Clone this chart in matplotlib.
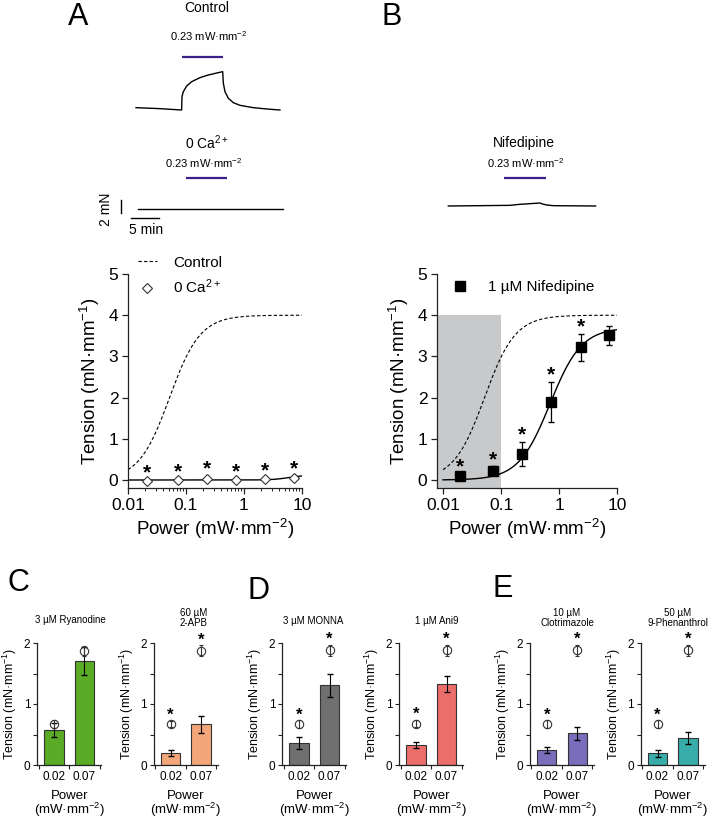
import numpy as np
import matplotlib
matplotlib.use("Agg")
import matplotlib.pyplot as plt
from matplotlib.lines import Line2D
from matplotlib.ticker import LogLocator, NullFormatter, FixedLocator

plt.rcParams.update({
    "font.family": ["Liberation Sans", "DejaVu Sans"],
    "mathtext.fontset": "custom",
    "mathtext.rm": "Liberation Sans",
    "mathtext.it": "Liberation Sans:italic",
    "mathtext.bf": "Liberation Sans:bold",
    "axes.linewidth": 0.9,
    "axes.edgecolor": "#222222",
    "xtick.color": "#222222",
    "ytick.color": "#222222",
    "xtick.labelcolor": "black",
    "ytick.labelcolor": "black",
})

# ---------------- data ----------------
# raw force traces (time in min, force in mN)
ctrl_trace_t = [0.0, 4.29, 8.15, 8.21, 8.45, 9.05, 9.94, 11.43, 12.92, 14.40, 15.48,
                15.60, 15.89, 16.49, 17.38, 18.57, 20.95, 23.33, 25.71]
ctrl_trace_f = [0.05, -0.10, -0.31, 1.74, 2.51, 3.38, 4.05, 4.67, 5.08, 5.38, 5.59,
                3.79, 2.51, 1.49, 0.82, 0.41, 0.05, -0.15, -0.31]
ctrl_light = (8.2, 15.5)
ca_trace_t = [0.0, 25.9]
ca_trace_f = [0.0, 0.0]
ca_light = (8.5, 15.8)
nif_trace_t = [0.0, 11.0, 12.8, 14.6, 16.4, 16.8, 17.6, 18.75, 26.3]
nif_trace_f = [0.0, 0.10, 0.26, 0.36, 0.46, 0.31, 0.15, 0.05, 0.0]
nif_light = (10.0, 17.4)
scale_time = 5.0   # min
scale_force = 2.0  # mN

# power-response: 0 Ca2+
ca_power = [0.021, 0.072, 0.23, 0.72, 2.3, 7.2]
ca_tension = [-0.03, -0.01, 0.03, 0.01, 0.02, 0.06]
ca_err = [0.03, 0.03, 0.06, 0.03, 0.03, 0.05]
ca_sig = [True, True, True, True, True, True]

# power-response: nifedipine
nif_power = [0.020, 0.072, 0.23, 0.72, 2.35, 7.2]
nif_tension = [0.10, 0.23, 0.63, 1.89, 3.22, 3.51]
nif_err = [0.06, 0.10, 0.30, 0.49, 0.33, 0.23]
nif_sig = [True, True, True, True, True, False]

# Hill fits (bottom, top, EC50, n)
control_fit = (0.0, 4.0, 0.052, 1.64)
ca_fit = (0.0, 0.12, 6.0, 3.0)
nif_fit = (0.0, 3.7, 0.7, 1.6)
shade_power_max = 0.1
shade_top = 4.0

# bar panels
bar_powers = ["0.02", "0.07"]
bar_titles = ["3 µM Ryanodine", "60 µM\n2-APB", "3 µM MONNA", "1 µM Ani9",
              "10 µM\nClotrimazole", "50 µM\n9-Phenanthrol"]
bar_colors = ["#5aab26", "#f2a679", "#707070", "#ec6e6b", "#7a6dbb", "#38aca8"]
bar_means = [[0.57, 1.70], [0.19, 0.67], [0.355, 1.31], [0.33, 1.33], [0.246, 0.52], [0.19, 0.44]]
bar_sems = [[0.115, 0.23], [0.05, 0.14], [0.10, 0.19], [0.045, 0.13], [0.044, 0.104], [0.055, 0.095]]
ctrl_means = [[0.67, 1.87], [0.67, 1.87], [0.67, 1.88], [0.68, 1.88], [0.67, 1.885], [0.67, 1.885]]
ctrl_sems = [[0.06, 0.08], [0.05, 0.09], [0.06, 0.09], [0.06, 0.09], [0.06, 0.09], [0.06, 0.09]]
bar_sig = [[False, False], [True, True], [True, True], [True, True], [True, True], [True, True]]

# ---------------- layout helpers ----------------
W, H = 709, 819
fig = plt.figure(figsize=(W / 100, H / 100), dpi=100)


def px_axes(left, top, width, height):
    return fig.add_axes([left / W, 1 - (top + height) / H, width / W, height / H])


def ftext(x, y, s, **kw):
    kw.setdefault("ha", "center")
    kw.setdefault("va", "center")
    fig.text(x / W, 1 - y / H, s, **kw)


def hill(x, p):
    b, t, ec, n = p
    return b + (t - b) / (1 + (ec / x) ** n)


SX, SY = 5.6, 6.5  # px per min, px per mN


def trace_axes(x0, y0, tmin, tmax, fmin, fmax):
    ax = px_axes(x0 + tmin * SX, y0 - fmax * SY, (tmax - tmin) * SX, (fmax - fmin) * SY)
    ax.set_xlim(tmin, tmax)
    ax.set_ylim(fmin, fmax)
    ax.axis("off")
    return ax


LIGHT = "#3b1f8a"

# ---------------- traces ----------------
ax = trace_axes(136, 108, -1, 27, -1, 9)
ax.plot(ctrl_trace_t, ctrl_trace_f, color="k", lw=1.0)
ax.plot(ctrl_light, [7.85, 7.85], color=LIGHT, lw=1.6, solid_capstyle="butt")

ax = trace_axes(138.3, 209.3, -6, 27, -3, 6)
ax.plot(ca_trace_t, ca_trace_f, color="k", lw=1.0)
ax.plot(ca_light, [4.8, 4.8], color=LIGHT, lw=1.6, solid_capstyle="butt")
ax.plot([-3.1, -3.1], [-0.57, -0.57 + scale_force], color="k", lw=1.0)
ax.plot([-1.3, -1.3 + scale_time], [-1.34, -1.34], color="k", lw=1.0)

ax = trace_axes(448.3, 206, -1, 28, -1, 6)
ax.plot(nif_trace_t, nif_trace_f, color="k", lw=1.0)
ax.plot(nif_light, [4.3, 4.3], color=LIGHT, lw=1.6, solid_capstyle="butt")

ftext(207, 8, "Control", fontsize=10)
ftext(209, 36, "0.23 mW·mm$^{-2}$", fontsize=8)
ftext(207, 143, "0 Ca$^{2+}$", fontsize=10)
ftext(204, 163, "0.23 mW·mm$^{-2}$", fontsize=8)
ftext(524, 143, "Nifedipine", fontsize=10)
ftext(526, 163, "0.23 mW·mm$^{-2}$", fontsize=8)
ftext(106, 209, "2 mN", fontsize=10, rotation=90)
ftext(146, 230, "5 min", fontsize=10)

ftext(78, 17, "A", fontsize=22)
ftext(392, 17, "B", fontsize=22)
ftext(18, 583, "C", fontsize=22)
ftext(259, 591, "D", fontsize=22)
ftext(503, 589, "E", fontsize=22)

STAR = dict(ha="center", va="center", fontweight="bold", annotation_clip=False,
            textcoords="offset points")


# ---------------- power-response axes ----------------
def style_main(ax, xleft):
    ax.set_xscale("log")
    ax.set_xlim(xleft, 10)
    ax.set_ylim(-0.194, 5)
    for s in ("top", "right"):
        ax.spines[s].set_visible(False)
    ax.xaxis.set_major_locator(FixedLocator([0.01, 0.1, 1, 10]))
    ax.set_xticklabels(["0.01", "0.1", "1", "10"])
    ax.xaxis.set_minor_locator(LogLocator(base=10, subs=np.arange(2, 10)))
    ax.xaxis.set_minor_formatter(NullFormatter())
    ax.set_yticks([0, 1, 2, 3, 4, 5])
    ax.tick_params(axis="both", which="major", direction="out", length=4, width=0.9,
                   labelsize=12.5, pad=3)
    ax.tick_params(axis="x", which="minor", direction="out", length=2.5, width=0.7)
    ax.set_xlabel("Power (mW·mm$^{-2}$)", fontsize=13.5, labelpad=3)
    ax.set_ylabel("Tension (mN·mm$^{-1}$)", fontsize=13.5, labelpad=5)


xs = np.logspace(-2, 1, 300)

axA = px_axes(128, 274, 174, 214)
style_main(axA, 0.01)
axA.plot(xs, hill(xs, control_fit), ls="--", dashes=(3, 2), color="k", lw=0.8)
axA.plot(xs, hill(xs, ca_fit), color="k", lw=1.0)
axA.errorbar(ca_power, ca_tension, yerr=ca_err, fmt="D", ms=5.5, mfc="white",
             mec="#333333", mew=0.8, ecolor="#333333", elinewidth=0.8, capsize=1.5, zorder=3)
for x, y, e, s in zip(ca_power, ca_tension, ca_err, ca_sig):
    if s:
        axA.annotate("*", (x, y + e), xytext=(0, 5), fontsize=15, **STAR)
hA = [Line2D([], [], ls="--", dashes=(3, 2), color="k", lw=0.8),
      Line2D([], [], marker="D", ls="none", mfc="white", mec="#333333", ms=5.5, mew=0.8)]
axA.legend(hA, ["Control", "0 Ca$^{2+}$"], loc="upper left", bbox_to_anchor=(0.056, 1.085),
           frameon=False, fontsize=11, handlelength=1.25, handletextpad=1.05,
           borderpad=0, borderaxespad=0, labelspacing=0.5)

xleftB = 0.01 * 10 ** (-6 / 58)
axB = px_axes(437, 274, 180, 214)
style_main(axB, xleftB)
axB.fill_between([xleftB, shade_power_max], -0.194, shade_top, color="#c8c9cb", lw=0, zorder=0)
axB.plot(xs, hill(xs, control_fit), ls="--", dashes=(3, 2), color="k", lw=0.8)
axB.plot(xs, hill(xs, nif_fit), color="k", lw=1.0)
axB.errorbar(nif_power, nif_tension, yerr=nif_err, fmt="s", ms=7, mfc="black",
             mec="black", ecolor="black", elinewidth=0.9, capsize=2.5, zorder=3)
for x, y, e, s in zip(nif_power, nif_tension, nif_err, nif_sig):
    if s:
        axB.annotate("*", (x, y + e), xytext=(0, 5), fontsize=15, **STAR)
hB = [Line2D([], [], marker="s", ls="none", mfc="black", mec="black", ms=7)]
axB.legend(hB, ["1 µM Nifedipine"], loc="upper left", bbox_to_anchor=(0.075, 0.97),
           frameon=False, fontsize=11, handlelength=1.25, handletextpad=1.2,
           borderpad=0, borderaxespad=0)

# ---------------- bar panels ----------------
bar_c0 = [54, 170.5, 299, 416, 546.7, 657.5]
title_pos = [(70.7, 620), (194, 618), (313, 621), (437, 621), (567, 618), (678, 618)]
UNIT = 30.5
for i in range(6):
    ax = px_axes(bar_c0[i] - 0.55 * UNIT, 643, 2.1 * UNIT, 122)
    pos = np.arange(2)
    ax.bar(pos, bar_means[i], width=0.63, color=bar_colors[i], edgecolor="#333333",
           lw=0.8, zorder=2)
    ax.errorbar(pos, bar_means[i], yerr=bar_sems[i], fmt="none", ecolor="black",
                elinewidth=0.8, capsize=2, zorder=3)
    ax.errorbar(pos, ctrl_means[i], yerr=ctrl_sems[i], fmt="o", ms=6, mfc="none",
                mec="#333333", mew=0.8, ecolor="#333333", elinewidth=0.8, capsize=1.5, zorder=3)
    for p, m, e, s in zip(pos, ctrl_means[i], ctrl_sems[i], bar_sig[i]):
        if s:
            ax.annotate("*", (p, m + e), xytext=(0, 4), fontsize=12, **STAR)
    ax.set_xlim(-0.55, 1.55)
    ax.set_ylim(0, 2)
    for s in ("top", "right"):
        ax.spines[s].set_visible(False)
    ax.set_xticks(pos)
    ax.set_xticklabels(bar_powers)
    ax.xaxis.set_minor_locator(FixedLocator([-0.5, 0.5, 1.5]))
    ax.tick_params(axis="x", which="major", length=0, labelsize=8.5, pad=4)
    ax.tick_params(axis="x", which="minor", direction="out", length=3, width=0.8)
    ax.set_yticks([0, 1, 2])
    ax.yaxis.set_minor_locator(FixedLocator([0.5, 1.5]))
    ax.tick_params(axis="y", which="major", direction="out", length=3, width=0.8,
                   labelsize=8.5, pad=2)
    ax.tick_params(axis="y", which="minor", direction="out", length=3, width=0.8)
    ax.set_ylabel("Tension (mN·mm$^{-1}$)", fontsize=9, labelpad=3)
    cx = bar_c0[i] + 0.5 * UNIT
    ftext(cx, 799, "Power", fontsize=9.5, va="baseline")
    ftext(cx, 814, "(mW·mm$^{-2}$)", fontsize=9.5, va="baseline")
    ftext(title_pos[i][0], title_pos[i][1], bar_titles[i], fontsize=7, linespacing=1.05)

fig.savefig("out.png", dpi=100)
